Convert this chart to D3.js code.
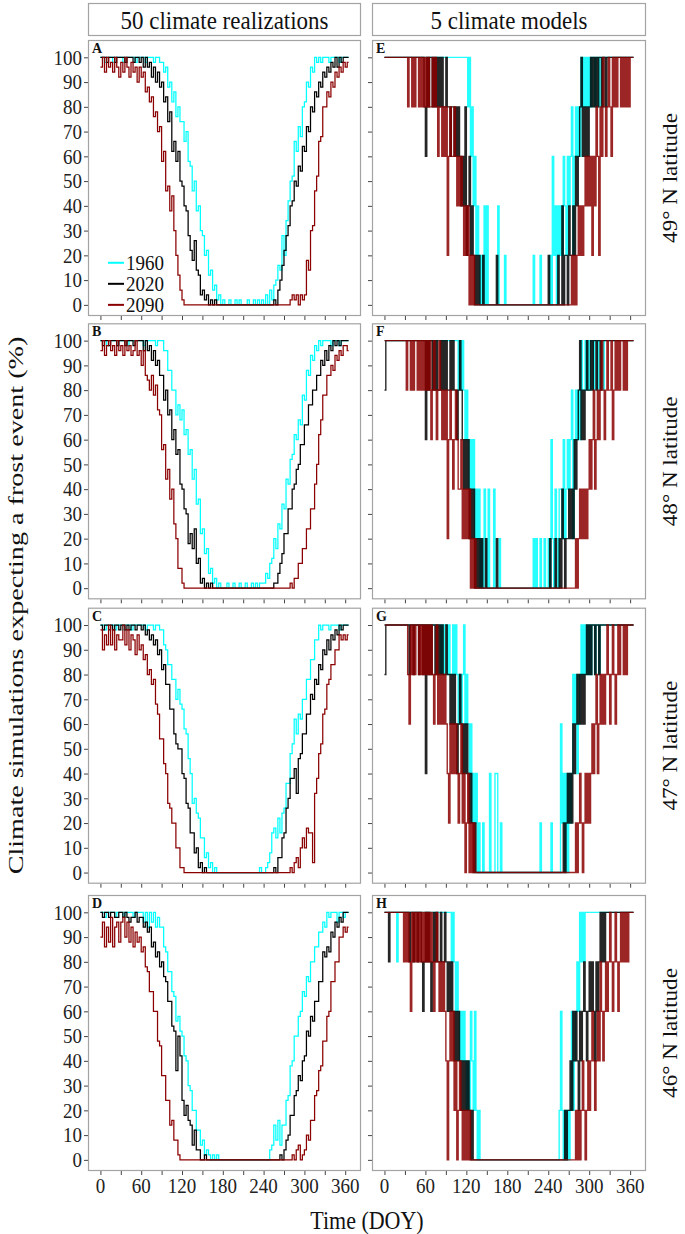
<!DOCTYPE html>
<html><head><meta charset="utf-8">
<script src="https://cdn.jsdelivr.net/npm/d3@7"></script>
<style>body{margin:0;background:#fff}svg{display:block}</style>
</head><body><svg id="c" width="685" height="1234"></svg>
<script>
// ---------- categories / labels ----------
const years = ["1960", "2020", "2090"];
const yearColors = ["#00FFFF", "#000000", "#8B0000"];
const headers = ["50 climate realizations", "5 climate models"];
const latitudes = ["49° N latitude", "48° N latitude", "47° N latitude", "46° N latitude"];
const leftLetters = ["A", "B", "C", "D"];
const rightLetters = ["E", "F", "G", "H"];
const yTickValues = [0, 10, 20, 30, 40, 50, 60, 70, 80, 90, 100];
const xTickValues = [0, 30, 60, 90, 120, 150, 180, 210, 240, 270, 300, 330, 360];
const xTickLabels = [0, 60, 120, 180, 240, 300, 360];

// ---------- 50 climate realizations: % of realizations expecting frost, read every 3 days (DOY 0..363) ----------
const doyRealizations = d3.range(0, 364, 3);
const A_1960 = [100,100,98,100,100,100,98,100,100,100, 100,98,100,100,100,100,100,98,100,100, 100,100,98,100,100,100,98,100,100,98,
 98,94,96,88,90,82,86,76,80,74, 74,66,70,58,56,46,50,38,40,30, 28,20,22,12,14,6,8,2,4,0, 2,0,0,2,0,0,2,0,2,0, 0,0,2,0,0,2,0,2,0,2,
 0,4,0,6,2,8,10,16,14,28, 20,34,42,50,52,66,62,72,68,80, 82,90,88,96,94,100,98,100,98,100, 100,100,98,100,100,100,100,98,100,100, 100,100];
const A_2020 = [100,100,100,98,100,100,100,98,100,100, 100,100,98,100,100,100,98,100,100,98, 100,96,100,96,98,92,96,90,94,88,
 90,82,84,74,78,62,66,58,62,50, 48,40,38,28,22,18,26,14,12,4, 6,2,4,0,2,0,2,0,0,0, 0,0,0,0,0,0,0,0,0,0, 0,0,0,0,0,0,0,0,0,0,
 0,0,0,0,0,2,0,6,10,16, 22,28,32,40,42,50,48,56,54,64, 62,72,70,80,78,86,84,90,88,94, 92,96,94,98,96,100,96,100,98,100, 100,100];
const A_2090 = [96,100,94,100,96,98,94,100,96,92, 98,94,100,96,92,98,94,96,90,96, 92,94,86,88,82,84,76,78,70,72,
 58,62,46,48,38,44,30,20,12,6, 2,0,0,0,0,0,0,0,0,0, 0,0,0,0,0,0,0,0,0,0, 0,0,0,0,0,0,0,0,0,0, 0,0,0,0,0,0,0,0,0,0,
 0,0,0,0,0,0,0,0,0,0, 0,0,0,2,4,2,4,0,4,2, 4,18,14,30,32,46,52,66,68,80, 80,86,84,90,88,94,92,96,94,98, 96,98];
const B_1960 = [100,100,100,98,100,100,100,100,98,100, 100,100,100,98,100,100,100,100,100,100, 100,98,100,100,100,100,100,98,100,100,
 100,96,96,88,88,80,80,70,74,68, 72,62,64,54,56,44,48,34,36,22, 24,14,16,6,8,2,4,0,2,0, 0,0,2,0,0,2,0,0,2,0, 0,2,0,0,2,0,2,0,2,2,
 2,6,4,10,12,20,16,26,24,34, 32,44,42,52,54,62,60,68,66,78, 76,88,86,94,92,98,96,100,98,100, 100,100,100,98,100,100,100,98,100,100, 100,100];
const B_2020 = [100,98,100,100,98,100,100,100,98,100, 100,100,98,100,100,100,98,100,100,100, 100,96,100,96,98,92,96,90,92,86,
 86,76,80,70,72,60,64,54,56,42, 40,32,30,18,22,16,24,10,12,2, 4,0,2,0,2,0,0,0,0,0, 0,0,0,0,0,0,0,0,0,0, 0,0,0,0,0,0,0,0,0,0,
 0,0,0,0,0,2,2,6,10,14, 22,22,32,32,40,42,48,50,58,58, 66,66,74,74,80,80,86,86,92,90, 96,92,98,96,100,98,100,98,100,100, 100,100];
const B_2090 = [96,100,94,98,100,96,98,94,100,96, 98,94,100,96,98,94,96,100,94,96, 90,96,86,84,80,86,78,82,72,70,
 56,58,44,48,36,40,26,20,8,8, 2,0,0,0,0,0,0,0,0,0, 0,0,0,0,0,0,0,0,0,0, 0,0,0,0,0,0,0,0,0,0, 0,0,0,0,0,0,0,0,0,0,
 0,0,0,0,0,0,0,0,0,0, 0,0,0,2,0,4,4,10,10,16, 16,24,24,32,32,42,50,62,68,78, 78,86,86,90,88,94,92,96,94,98, 98,96];
const C_1960 = [100,100,98,100,100,100,100,98,100,100, 100,98,100,100,100,98,100,100,100,100, 100,100,98,100,100,100,98,100,100,98,
 98,92,90,84,84,78,78,70,74,68, 66,58,56,46,40,28,30,24,22,14, 14,6,8,2,4,0,2,0,0,0, 0,0,0,0,0,0,0,0,0,0, 0,0,0,0,0,0,0,0,2,0,
 0,2,4,8,16,18,14,22,16,24, 26,36,36,48,52,62,56,64,62,70, 70,78,78,86,86,94,94,100,98,100, 100,100,98,100,100,100,100,98,100,100, 100,100];
const C_2020 = [100,98,100,100,98,100,98,100,100,98, 100,100,98,100,98,100,100,98,100,100, 98,100,96,98,94,96,92,94,88,90,
 82,84,76,76,66,66,56,52,50,50, 40,38,28,26,16,16,8,10,2,4, 0,2,0,0,0,0,0,0,0,0, 0,0,0,0,0,0,0,0,0,0, 0,0,0,0,0,0,0,0,0,0,
 0,0,0,0,0,2,0,6,6,14, 16,26,30,38,38,42,32,46,48,56, 56,64,64,72,70,78,76,84,82,90, 88,94,90,96,94,98,96,100,98,100, 100,100];
const C_2090 = [98,90,96,92,100,92,98,90,96,94, 94,100,92,98,90,96,94,88,96,90, 92,86,88,80,82,76,78,68,64,54,
 54,44,40,28,26,20,20,10,10,2, 2,0,0,0,0,0,0,0,0,0, 0,0,0,0,0,0,0,0,0,0, 0,0,0,0,0,0,0,0,0,0, 0,0,0,0,0,0,0,0,0,0,
 0,0,0,0,0,0,0,0,0,0, 0,0,0,2,0,4,6,2,10,14, 10,18,16,16,4,32,38,48,52,64, 66,76,78,84,84,90,90,96,94,96, 94,96];
const D_1960 = [100,100,98,100,100,100,100,98,100,100, 100,98,100,100,100,100,98,100,100,100, 100,96,100,94,100,96,100,94,98,94,
 94,86,84,76,76,68,66,56,58,52, 50,42,40,30,28,20,20,12,12,6, 8,2,4,2,0,2,0,2,0,0, 0,0,0,0,0,0,0,0,0,0, 0,0,0,0,0,0,0,0,0,0,
 0,0,0,4,6,14,8,16,6,14, 14,24,26,38,40,50,50,58,60,68, 66,74,72,80,80,86,86,92,92,96, 94,100,98,100,100,100,96,100,100,98, 100,100];
const D_2020 = [100,98,100,100,98,100,100,98,98,100, 100,98,100,98,96,98,98,100,96,98, 98,94,96,92,94,86,88,82,84,78,
 80,74,72,64,64,54,52,36,50,42, 24,18,22,16,14,6,12,4,4,0, 0,2,0,0,0,0,0,0,0,0, 0,0,0,0,0,0,0,0,0,0, 0,0,0,0,0,0,0,0,0,0,
 0,0,0,0,0,0,0,0,2,0, 4,8,10,18,18,26,28,34,32,40, 42,52,50,58,56,64,64,72,72,84, 82,86,84,92,90,96,94,98,96,100, 100,100];
const D_2090 = [90,96,86,94,88,98,86,94,96,88, 96,98,90,96,88,94,86,92,88,90, 84,86,78,76,68,68,60,60,48,46,
 34,34,24,24,14,16,8,8,2,0, 0,0,0,0,0,0,0,0,0,0, 0,0,0,0,0,0,0,0,0,0, 0,0,0,0,0,0,0,0,0,0, 0,0,0,0,0,0,0,0,0,0,
 0,0,0,0,0,0,0,0,0,0, 0,0,0,0,2,0,4,6,0,2, 4,10,8,16,16,26,28,36,38,48, 48,58,60,72,72,80,80,90,90,94, 92,94];

// ---------- 5 climate models: number of models (of 5) expecting frost, read every 2 days (DOY 0..364) ----------
const doyModels = d3.range(0, 365, 2);
const E_1960 = [5,5,5,5,5,5,5,5,5,5,5,5,5,5,5, 5,5,5,5,5,5,5,5,5,5,5,5,5,5,5, 5,5,5,5,5,5,5,5,5,5,5,5,5,5,5, 5,5,5,5,5,5,5,5,5,5,5,5,5,5,5,
 5,4,5,3,4,2,3,1,2,1,0,1,0,2,0, 2,0,0,0,0,0,0,0,2,0,0,0,0,1,0, 0,0,0,0,0,0,0,0,0,0,0,0,0,0,0, 0,0,0,0,1,0,0,0,0,1,0,0,0,0,0,
 0,1,0,3,1,2,0,2,1,2,1,3,2,1,3, 2,3,4,1,3,4,3,4,3,5,4,5,4,5,4, 5,4,5,5,4,5,5,4,5,5,4,5,5,5,5, 5,5,5,5,5,5,5,5,5,5,5,5,5,5,5, 5,5,5];
const E_2020 = [5,5,5,5,5,5,5,5,5,5,5,5,5,5,5, 5,5,5,5,5,5,5,5,5,5,5,5,5,5,4, 3,5,4,5,5,4,5,4,5,4,5,4,5,4,4, 5,4,4,3,4,4,3,4,3,4,3,2,3,2,4,
 1,2,3,1,2,1,0,1,0,1,0,0,1,0,0, 0,0,0,0,0,0,0,1,0,0,0,0,0,0,0, 0,0,0,0,0,0,0,0,0,0,0,0,0,0,0, 0,0,0,0,0,0,0,0,0,0,0,0,0,0,0,
 1,0,0,0,0,0,0,1,0,0,2,0,1,1,0, 2,1,1,2,1,3,2,3,4,5,3,4,3,4,3, 4,5,4,5,4,5,4,5,5,4,5,5,4,5,5, 5,5,5,5,5,5,5,5,5,5,5,5,5,5,5, 5,5,5];
const E_2090 = [5,5,5,5,5,5,5,5,5,5,5,5,5,5,5, 5,5,4,5,5,4,5,4,5,5,4,5,4,5,4, 5,4,5,4,4,5,4,5,4,3,4,4,3,4,3, 4,1,3,4,3,3,4,3,2,3,2,3,2,1,2,
 1,2,0,1,0,1,0,0,0,0,0,0,0,0,0, 0,0,0,0,0,0,0,0,0,0,0,0,0,0,0, 0,0,0,0,0,0,0,0,0,0,0,0,0,0,0, 0,0,0,0,0,0,0,0,0,0,0,0,0,0,0,
 0,0,0,0,0,0,0,0,0,0,0,0,0,0,0, 0,0,1,0,1,0,1,2,1,2,1,2,3,2,3, 2,3,1,3,2,4,3,1,4,3,5,4,3,4,5, 4,3,5,4,5,4,5,5,4,5,4,5,4,5,4, 5,5,5];
const F_1960 = [5,5,5,5,5,5,5,5,5,5,5,5,5,5,5, 5,5,5,5,5,5,5,5,5,5,5,5,5,5,5, 5,5,5,5,5,5,5,5,5,5,5,5,5,5,5, 5,5,5,5,5,5,5,5,5,4,5,4,5,4,3,
 4,3,2,3,2,3,1,2,1,2,0,1,0,2,1, 0,2,0,0,0,2,0,0,0,1,0,0,0,0,0, 0,0,0,0,0,0,0,0,0,0,0,0,0,0,0, 0,0,0,0,1,0,1,0,0,1,0,0,1,0,0,
 1,0,3,1,0,2,1,0,2,2,1,3,1,2,3, 2,3,4,1,3,4,3,4,3,5,4,4,5,4,5, 4,5,5,4,5,5,4,5,5,5,4,5,5,5,5, 5,5,5,5,5,5,5,5,5,5,5,5,5,5,5, 5,5,5];
const F_2020 = [4,5,5,5,5,5,5,5,5,5,5,5,5,5,5, 5,5,5,5,5,5,5,5,5,5,5,5,5,5,5, 3,5,4,5,5,4,5,4,5,4,4,5,4,5,4, 5,4,4,5,4,5,4,4,3,4,5,4,3,2,3,
 2,3,1,2,1,2,0,1,0,1,0,1,0,0,1, 0,0,0,0,0,0,0,1,0,0,0,0,0,0,0, 0,0,0,0,0,0,0,0,0,0,0,0,0,0,0, 0,0,0,0,0,0,0,0,0,0,0,0,0,0,0,
 0,1,0,0,0,1,0,0,1,0,2,1,0,1,1, 2,1,2,1,3,2,3,4,5,3,4,3,4,5,4, 4,5,4,5,5,4,5,5,4,5,5,5,5,5,5, 5,5,5,5,5,5,5,5,5,5,5,5,5,5,5, 5,5,5];
const F_2090 = [5,5,5,5,5,5,5,5,5,5,5,5,5,5,5, 5,4,5,5,4,5,4,5,5,4,5,4,5,4,5, 4,5,4,5,3,4,5,4,3,4,5,4,3,4,3, 4,1,3,4,3,2,3,4,3,2,2,3,1,2,1,
 2,1,2,0,1,0,1,0,0,0,0,0,0,0,0, 0,0,0,0,0,0,0,0,0,0,0,0,0,0,0, 0,0,0,0,0,0,0,0,0,0,0,0,0,0,0, 0,0,0,0,0,0,0,0,0,0,0,0,0,0,0,
 0,0,0,0,0,0,0,0,0,0,0,0,0,0,0, 0,0,0,0,0,1,0,1,2,1,2,1,2,1,2, 3,2,3,4,2,3,4,3,4,5,4,3,4,5,4, 4,5,3,4,5,4,5,4,5,5,4,5,4,5,5, 5,5,5];
const G_1960 = [5,5,5,5,5,5,5,5,5,5,5,5,5,5,5, 5,5,5,5,5,5,5,5,5,5,5,5,5,5,5, 5,5,5,5,5,5,5,5,5,5,5,4,5,4,5, 5,4,5,4,4,5,4,5,4,3,4,3,4,5,3,
 4,3,2,3,1,2,1,2,0,1,0,0,1,0,0, 0,0,2,0,0,0,2,2,0,0,1,0,0,0,0, 0,0,0,0,0,0,0,0,0,0,0,0,0,0,0, 0,0,0,0,0,0,0,0,0,1,0,0,0,0,0,
 0,0,1,0,0,0,0,0,0,3,1,2,0,2,0, 2,1,2,4,3,4,2,3,4,5,4,5,4,5,4, 5,4,5,5,4,5,5,4,5,5,5,5,5,5,5, 5,5,5,5,5,5,5,5,5,5,5,5,5,5,5, 5,5,5];
const G_2020 = [4,5,5,5,5,5,5,5,5,5,5,5,5,5,5, 5,5,5,4,5,5,4,5,5,5,4,5,5,4,5, 2,5,4,5,4,5,5,4,5,4,5,4,5,4,4, 5,4,4,3,4,3,4,3,2,3,4,3,2,3,2,
 3,2,1,2,1,0,1,0,0,0,0,0,0,0,0, 0,0,0,0,0,0,0,0,0,0,0,0,0,0,0, 0,0,0,0,0,0,0,0,0,0,0,0,0,0,0, 0,0,0,0,0,0,0,0,0,0,0,0,0,0,0,
 0,0,0,0,0,0,0,0,0,0,0,1,0,1,2, 1,2,1,3,2,3,4,3,4,3,4,3,4,5,4, 5,4,5,5,4,5,5,4,5,5,5,5,5,5,5, 5,5,5,5,5,5,5,5,5,5,5,5,5,5,5, 5,5,5];
const G_2090 = [5,5,5,5,5,5,5,5,5,5,5,5,5,5,5, 5,5,4,3,5,4,5,4,5,5,4,5,4,5,4, 5,4,5,4,5,4,3,4,5,3,4,3,4,3,4, 3,2,1,3,2,3,2,3,2,1,2,3,1,2,0,
 1,2,0,1,0,1,0,0,0,0,0,0,0,0,0, 0,0,0,0,0,0,0,0,0,0,0,0,0,0,0, 0,0,0,0,0,0,0,0,0,0,0,0,0,0,0, 0,0,0,0,0,0,0,0,0,0,0,0,0,0,0,
 0,0,0,0,0,0,0,0,0,0,0,0,0,0,0, 0,0,0,0,0,1,0,1,2,1,0,1,2,1,2, 1,2,3,2,3,4,2,3,4,3,4,3,4,5,4, 3,4,5,4,3,4,5,4,5,5,4,5,4,5,5, 5,5,5];
const H_1960 = [5,5,5,5,5,5,5,5,5,4,5,5,5,5,5, 5,5,5,5,5,5,5,5,5,5,5,5,5,5,5, 5,5,5,5,5,5,5,5,5,5,5,5,5,5,5, 5,5,5,5,4,5,4,3,4,3,2,3,2,3,2,
 1,2,1,3,2,1,3,1,0,1,0,0,0,0,0, 0,0,0,0,0,0,0,0,0,0,0,0,0,0,0, 0,0,0,0,0,0,0,0,0,0,0,0,0,0,0, 0,0,0,0,0,0,0,0,0,0,0,0,0,0,0,
 0,0,0,0,0,0,0,0,1,3,1,0,1,0,1, 0,1,3,1,2,3,4,3,5,4,5,4,5,5,5, 5,5,5,5,5,5,5,5,5,5,5,5,5,5,5, 5,5,5,5,5,5,5,5,5,5,5,5,5,5,5, 5,5,5];
const H_2020 = [5,5,5,4,5,5,5,5,5,5,5,5,5,5,5, 5,5,5,4,5,5,4,5,5,4,5,5,4,3,4, 5,4,5,4,3,4,5,4,5,4,4,5,4,4,5, 4,3,4,3,4,3,2,3,2,3,2,1,2,1,2,
 1,2,1,0,1,0,0,0,0,0,0,0,0,0,0, 0,0,0,0,0,0,0,0,0,0,0,0,0,0,0, 0,0,0,0,0,0,0,0,0,0,0,0,0,0,0, 0,0,0,0,0,0,0,0,0,0,0,0,0,0,0,
 0,0,0,0,0,0,0,0,0,0,0,0,1,0,1, 1,2,1,3,2,3,2,1,3,2,3,4,3,2,3, 4,3,4,3,2,4,3,4,5,4,5,4,5,5,5, 5,5,5,5,5,5,5,5,5,5,5,5,5,5,5, 5,5,5];
const H_2090 = [5,5,5,5,5,5,5,5,5,5,5,5,5,5,4, 5,4,5,4,3,5,4,5,4,5,4,5,4,5,4, 5,4,5,4,5,4,3,4,5,4,3,4,3,4,3, 2,0,2,3,2,3,1,2,0,1,2,1,0,1,0,
 1,0,1,0,0,0,0,0,0,0,0,0,0,0,0, 0,0,0,0,0,0,0,0,0,0,0,0,0,0,0, 0,0,0,0,0,0,0,0,0,0,0,0,0,0,0, 0,0,0,0,0,0,0,0,0,0,0,0,0,0,0,
 0,0,0,0,0,0,0,0,0,0,0,0,0,0,0, 0,0,0,0,0,1,0,1,0,1,2,1,0,1,2, 1,2,3,2,1,2,3,2,4,3,2,3,4,3,4, 5,4,3,4,5,4,3,4,5,4,5,4,5,4,5, 5,5,5];

const realizationSeries = [[A_1960, A_2020, A_2090], [B_1960, B_2020, B_2090], [C_1960, C_2020, C_2090], [D_1960, D_2020, D_2090]];
const modelSeries = [[E_1960, E_2020, E_2090], [F_1960, F_2020, F_2090], [G_1960, G_2020, G_2090], [H_1960, H_2020, H_2090]];
const nModels = 5;

// ---------- layout ----------
const FONT = '"Liberation Serif", "Times New Roman", Times, serif';
const svg = d3.select("#c");
const cols = [[88, 361], [372, 646]];
const rowTops = [40, 323.3, 607.7, 895];
const panelH = 276;
const frameColor = "#a3a3a3";
const tickColor = "#444";

function txt(sel) { return sel.append("text").attr("font-family", FONT).style("font-family", FONT).attr("fill", "#111"); }

// headers
headers.forEach((h, c) => {
  svg.append("rect").attr("x", cols[c][0] + 0.5).attr("y", 3.5).attr("width", cols[c][1] - cols[c][0] - 1).attr("height", 32)
    .attr("fill", "#fff").attr("stroke", frameColor).attr("stroke-width", 1.2);
  txt(svg).attr("transform", `translate(${(cols[c][0] + cols[c][1]) / 2},20) scale(1,1.12)`).attr("text-anchor", "middle")
    .attr("dominant-baseline", "central").style("font-size", "23px").text(h);
});

const defs = svg.append("defs");

function panel(r, c) {
  const [x0, x1] = cols[c];
  const top = rowTops[r], bot = top + panelH;
  const x = d3.scaleLinear().domain([-18.25, 383.25]).range([x0, x1]);
  const y = d3.scaleLinear().domain([-4.5, 107]).range([bot, top]);
  const id = "clip" + r + "_" + c;
  defs.append("clipPath").attr("id", id).append("rect").attr("x", x0).attr("y", top).attr("width", x1 - x0).attr("height", panelH);
  const g = svg.append("g");

  // tick marks via d3 axes
  const yg = g.append("g").attr("transform", `translate(${x0},0)`).call(d3.axisLeft(y).tickValues(yTickValues).tickSize(4).tickFormat(""));
  const xg = g.append("g").attr("transform", `translate(0,${bot})`).call(d3.axisBottom(x).tickValues(xTickValues).tickSize(4).tickFormat(""));
  [yg, xg].forEach(a => { a.select(".domain").remove(); a.selectAll(".tick line").attr("stroke", tickColor); });

  // tick labels
  if (c === 0) {
    yTickValues.forEach(v => {
      txt(g).attr("transform", `translate(${x0 - 6},${y(v)}) scale(1,1.1)`).attr("text-anchor", "end")
        .attr("dominant-baseline", "central").style("font-size", "19px").attr("fill", "#222").text(v);
    });
  }
  if (r === 3) {
    xTickLabels.forEach(v => {
      txt(g).attr("transform", `translate(${x(v)},${bot + 15}) scale(1,1.1)`).attr("text-anchor", "middle")
        .attr("dominant-baseline", "central").style("font-size", "19px").attr("fill", "#222").text(v);
    });
  }

  const lines = g.append("g").attr("clip-path", `url(#${id})`);
  const line = d3.line().x(d => x(d[0])).y(d => y(d[1])).curve(d3.curveStepAfter);
  if (c === 0) {
    realizationSeries[r].forEach((vals, k) => {
      const pts = doyRealizations.map((d, i) => [d, vals[i]]);
      pts.push([365, vals[vals.length - 1]]);
      lines.append("path").attr("d", line(pts)).attr("fill", "none").attr("stroke", yearColors[k]).attr("stroke-width", 1.25);
    });
  } else {
    modelSeries[r].forEach((vals, k) => {
      const pts = doyModels.map((d, i) => [d, vals[i] / nModels * 100]);
      pts.push([365, vals[vals.length - 1] / nModels * 100]);
      lines.append("path").attr("d", line(pts)).attr("fill", "none").attr("stroke", yearColors[k])
        .attr("stroke-width", 1.4).attr("stroke-opacity", 0.85);
    });
  }

  // frame
  g.append("rect").attr("x", x0 + 0.5).attr("y", top + 0.5).attr("width", x1 - x0 - 1).attr("height", panelH - 1)
    .attr("fill", "none").attr("stroke", frameColor).attr("stroke-width", 1.2);
  // panel letter
  txt(g).attr("x", x0 + 4).attr("y", top + 13).style("font-size", "14px").style("font-weight", "bold")
    .text(c === 0 ? leftLetters[r] : rightLetters[r]);

  // legend in panel A
  if (r === 0 && c === 0) {
    const legVals = [17, 8.5, 0];
    years.forEach((yr, k) => {
      const ly = y(legVals[k]);
      g.append("line").attr("x1", 108).attr("x2", 124).attr("y1", ly).attr("y2", ly).attr("stroke", yearColors[k]).attr("stroke-width", 2);
      txt(g).attr("transform", `translate(126,${ly}) scale(1,1.1)`).attr("dominant-baseline", "central").style("font-size", "19px").text(yr);
    });
  }
  // right strip label
  if (c === 1) {
    const cy = top + panelH / 2;
    txt(svg).attr("transform", `translate(670,${cy}) rotate(-90) scale(1.05,1)`).attr("text-anchor", "middle")
      .attr("dominant-baseline", "central").style("font-size", "22px").text(latitudes[r]);
  }
}

for (let r = 0; r < 4; r++) for (let c = 0; c < 2; c++) panel(r, c);

// axis titles
txt(svg).attr("transform", `translate(15,${(rowTops[0] + rowTops[3] + panelH) / 2}) rotate(-90) scale(1.28,1)`).attr("text-anchor", "middle")
  .attr("dominant-baseline", "central").style("font-size", "22px").text("Climate simulations expecting a frost event (%)");
txt(svg).attr("transform", `translate(${(cols[0][0] + cols[1][1]) / 2},1221) scale(1,1.1)`).attr("text-anchor", "middle")
  .attr("dominant-baseline", "central").style("font-size", "22px").text("Time (DOY)");
</script></body></html>
